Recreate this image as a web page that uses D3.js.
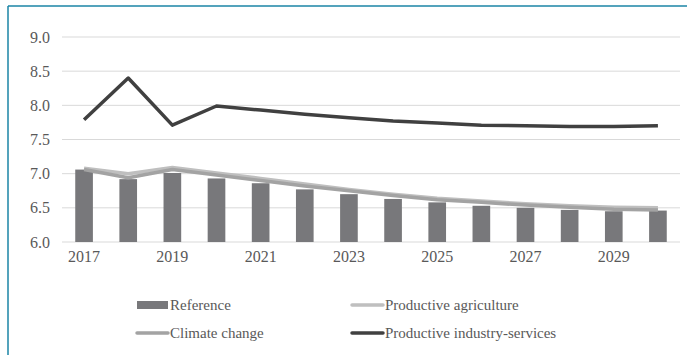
<!DOCTYPE html>
<html>
<head>
<meta charset="utf-8">
<script src="https://cdn.jsdelivr.net/npm/d3@7"></script>
<style>
  body { margin: 0; background: #fff; }
  svg text { font-family: "Liberation Serif", Tinos, "Times New Roman", Times, "DejaVu Serif", serif; fill: #595959; }
</style>
</head>
<body>
<svg id="chart" width="687" height="355"></svg>
<script>
// data
var years = [2017, 2018, 2019, 2020, 2021, 2022, 2023, 2024, 2025, 2026, 2027, 2028, 2029, 2030];
var tickYears = [2017, 2019, 2021, 2023, 2025, 2027, 2029];
var yTicks = [6.0, 6.5, 7.0, 7.5, 8.0, 8.5, 9.0];
var reference = [7.06, 6.92, 7.01, 6.93, 6.86, 6.77, 6.70, 6.63, 6.58, 6.53, 6.50, 6.47, 6.45, 6.46];
var agriculture = [7.08, 7.00, 7.09, 7.01, 6.93, 6.85, 6.77, 6.70, 6.64, 6.60, 6.56, 6.53, 6.51, 6.50];
var climate = [7.06, 6.94, 7.06, 6.98, 6.90, 6.82, 6.75, 6.68, 6.62, 6.58, 6.54, 6.51, 6.48, 6.47];
var industry = [7.79, 8.40, 7.71, 7.99, 7.93, 7.87, 7.82, 7.77, 7.74, 7.71, 7.70, 7.69, 7.69, 7.70];

var svg = d3.select("#chart");

// frame (top and left edges only show)
svg.append("line").attr("x1", 8).attr("x2", 687).attr("y1", 6).attr("y2", 6)
    .attr("stroke", "#1b84a6").attr("stroke-width", 1.5);
svg.append("line").attr("x1", 8).attr("x2", 8).attr("y1", 6).attr("y2", 355)
    .attr("stroke", "#1b84a6").attr("stroke-width", 1.5);

var x = d3.scaleBand().domain(years).range([62, 680]).paddingInner(0.6).paddingOuter(0.3);
var y = d3.scaleLinear().domain([6, 9]).range([242, 37]);

// gridlines
svg.append("g").selectAll("line").data(yTicks).enter().append("line")
    .attr("x1", 62).attr("x2", 680)
    .attr("y1", function (d) { return y(d); }).attr("y2", function (d) { return y(d); })
    .attr("stroke", "#d9d9d9").attr("stroke-width", 1);

// y axis labels
var yAxis = svg.append("g").attr("transform", "translate(50,0)")
    .call(d3.axisLeft(y).tickValues(yTicks).tickFormat(d3.format(".1f")).tickSize(0).tickPadding(0));
yAxis.select(".domain").remove();
yAxis.attr("font-family", null);
yAxis.selectAll("text").attr("font-size", 16);

// x axis labels
var xAxis = svg.append("g").attr("transform", "translate(0,251)")
    .call(d3.axisBottom(x).tickValues(tickYears).tickSize(0).tickPadding(0));
xAxis.select(".domain").remove();
xAxis.attr("font-family", null);
xAxis.selectAll("text").attr("font-size", 16);

// bars
svg.append("g").selectAll("rect").data(years).enter().append("rect")
    .attr("x", function (d) { return x(d); })
    .attr("width", x.bandwidth())
    .attr("y", function (d, i) { return y(reference[i]); })
    .attr("height", function (d, i) { return y(6) - y(reference[i]); })
    .attr("fill", "#78787b");

var line = d3.line()
    .x(function (d, i) { return x(years[i]) + x.bandwidth() / 2; })
    .y(function (d) { return y(d); });

function drawLine(vals, color) {
    svg.append("path").datum(vals)
        .attr("d", line)
        .attr("fill", "none")
        .attr("stroke", color)
        .attr("stroke-width", 3.5)
        .attr("stroke-linejoin", "round");
}
drawLine(agriculture, "#bfbfbf");
drawLine(climate, "#a3a3a3");
drawLine(industry, "#404040");

// legend
var legend = [
    {name: "Reference", kind: "bar", color: "#78787b", x: 137, y: 305},
    {name: "Productive agriculture", kind: "line", color: "#bfbfbf", x: 352, y: 305},
    {name: "Climate change", kind: "line", color: "#a3a3a3", x: 137, y: 333},
    {name: "Productive industry-services", kind: "line", color: "#404040", x: 352, y: 333}
];
var lg = svg.append("g").selectAll("g").data(legend).enter().append("g")
    .attr("transform", function (d) { return "translate(" + d.x + "," + d.y + ")"; });
lg.each(function (d) {
    var g = d3.select(this);
    if (d.kind == "bar") {
        g.append("rect").attr("x", 0).attr("y", -4).attr("width", 31).attr("height", 8).attr("fill", d.color);
    } else {
        g.append("line").attr("x1", 0).attr("x2", 31).attr("y1", 0).attr("y2", 0)
            .attr("stroke", d.color).attr("stroke-width", 3.5).attr("stroke-linecap", "round");
    }
    g.append("text").attr("x", 33).attr("y", 0).attr("dy", "0.35em")
        .attr("font-size", 15).text(d.name);
});
</script>
</body>
</html>
